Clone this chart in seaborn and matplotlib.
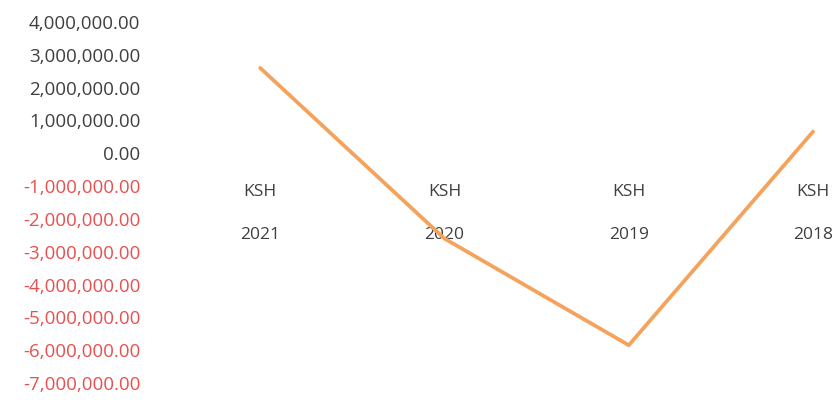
import matplotlib
matplotlib.use("Agg")
import matplotlib.pyplot as plt
import seaborn as sns
import pandas as pd

# values
years = ["2021", "2020", "2019", "2018"]
currency = "KSH"
net_values = [2_600_000, -2_600_000, -5_850_000, 660_000]
y_ticks = [4e6, 3e6, 2e6, 1e6, 0, -1e6, -2e6, -3e6, -4e6, -5e6, -6e6, -7e6]

df = pd.DataFrame({"pos": range(len(years)), "value": net_values})

sns.set_style("white")
plt.rcParams["font.family"] = ["Open Sans", "DejaVu Sans"]

fig = plt.figure(figsize=(8.4, 4.01), dpi=100)
ax = fig.add_axes([0.2, 0.0, 0.8, 1.0])

sns.lineplot(data=df, x="pos", y="value", color="#F4A25C", linewidth=2.7, ax=ax)

ax.set_xlim(-0.5, 3.146)
ax.set_ylim(-7.55e6, 4.67e6)

ax.set_yticks(y_ticks)
ax.set_yticklabels([f"{v:,.2f}" for v in y_ticks], fontsize=13.5)
for lbl, v in zip(ax.get_yticklabels(), y_ticks):
    lbl.set_color("#E8504F" if v < 0 else "#3F3F3F")
ax.tick_params(axis="y", length=0, pad=20)

# category labels hang below the zero line like in Excel
ax.spines["bottom"].set_position(("data", 0))
ax.set_xticks(df["pos"])
ax.set_xticklabels([f"{currency}\n\n{y}" for y in years], fontsize=12.5,
                   color="#3F3F3F", linespacing=1.45)
ax.tick_params(axis="x", length=0, pad=22)

for s in ax.spines.values():
    s.set_visible(False)
ax.set_xlabel("")
ax.set_ylabel("")

fig.savefig("out.png", dpi=100)
